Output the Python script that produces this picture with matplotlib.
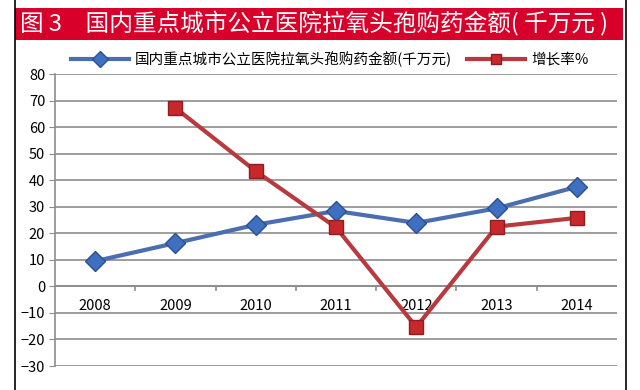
import numpy as np
import matplotlib.pyplot as plt
from matplotlib.patches import Rectangle
from matplotlib.lines import Line2D

plt.rcParams['font.family'] = ['Noto Sans CJK SC', 'DejaVu Sans']

years = ['2008', '2009', '2010', '2011', '2012', '2013', '2014']
amount = [9.5, 16.3, 23.2, 28.4, 23.9, 29.4, 37.5]
growth = [None, 67.2, 43.4, 22.2, -15.3, 22.5, 25.8]
title = '图 3　国内重点城市公立医院拉氧头孢购药金额( 千万元 )'
label_amount = '国内重点城市公立医院拉氧头孢购药金额(千万元)'
label_growth = '增长率%'

fig = plt.figure(figsize=(6.4, 3.9), dpi=100)

# outer frame and red title bar
fig.add_artist(Line2D([15/640, 15/640], [0, 1], color='black', lw=1.2))
fig.add_artist(Line2D([626/640, 626/640], [0, 1], color='black', lw=1.2))
fig.add_artist(Rectangle((15/640, 1 - 40/390), 608/640, 32/390,
                         facecolor='#d8002a', edgecolor='none'))
fig.text(20/640, 1 - 24/390, title, color='white', fontsize=17,
         va='center', ha='left')

ax = fig.add_axes([55/640, 1 - 366/390, 562/640, 292/390])
x = np.arange(len(years))

ax.plot(x, amount, color='#4a6eb0', lw=3, marker='D', markersize=10.5,
        markerfacecolor='#3f6fc0', markeredgecolor='#2d4f8f', zorder=3,
        label=label_amount)
gx = [i for i, g in enumerate(growth) if g is not None]
gy = [g for g in growth if g is not None]
ax.plot(gx, gy, color='#b83a3e', lw=3, marker='s', markersize=10.5,
        markerfacecolor='#c8282c', markeredgecolor='#8f1c1f', zorder=3,
        label=label_growth)

ax.set_xlim(-0.5, 6.5)
ax.set_ylim(-30, 80)
ax.set_yticks(np.arange(-30, 81, 10))
ax.grid(axis='y', color='#8c8c8c', lw=1.2)
ax.set_axisbelow(True)
for s in ['top', 'right', 'bottom']:
    ax.spines[s].set_visible(False)
ax.spines['left'].set_color('#8c8c8c')
ax.spines['left'].set_linewidth(1.2)
ax.tick_params(axis='y', length=4, color='#8c8c8c', labelsize=10.5, pad=3)
ax.set_xticks([])

# category axis at zero with tick marks between categories
ax.axhline(0, color='#8c8c8c', lw=1.2, zorder=1)
for b in np.arange(0.5, 6.5, 1):
    ax.plot([b, b], [0, -1.3], color='#8c8c8c', lw=1.2, zorder=1)
for i, y in enumerate(years):
    ax.text(i, -7.5, y, ha='center', va='center', fontsize=10.5, zorder=2)

fig.legend(loc='center', bbox_to_anchor=(0.515, 1 - 59/390), ncol=2,
           frameon=False, fontsize=10.5, handlelength=4, columnspacing=1.0,
           handletextpad=0.4, markerscale=0.75)

fig.savefig('out.png', dpi=100)
